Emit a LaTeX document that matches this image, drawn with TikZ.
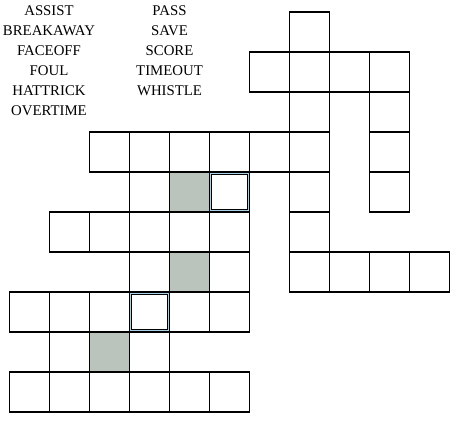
\documentclass[tikz,border=0pt]{standalone}
\usepackage{fontspec}
\setmainfont{Liberation Serif}
\definecolor{shade}{RGB}{187,196,188}
\definecolor{paleblue}{RGB}{170,210,232}
\begin{document}
\begin{tikzpicture}[x=1bp,y=-1bp,
  cellbox/.style={draw=black,line width=1.2bp,minimum size=40bp,inner sep=0pt,outer sep=0pt},
  shadebox/.style={cellbox,fill=shade},
  bluering/.style={draw=paleblue,line width=1bp,minimum size=37.6bp,inner sep=0pt},
  innerring/.style={draw=black,line width=1.2bp,minimum size=35.6bp,inner sep=0pt},
  word/.style={anchor=base,inner sep=0pt,font=\fontsize{14.8bp}{17bp}\selectfont}]
\useasboundingbox (0,0) rectangle (461,424);
% word list
\node[word] (w1) at (49,15.7) {ASSIST};
\node[word] (w2) at (49,35.7) {BREAKAWAY};
\node[word] (w3) at (49,55.7) {FACEOFF};
\node[word] (w4) at (49,75.7) {FOUL};
\node[word] (w5) at (49,95.7) {HATTRICK};
\node[word] (w6) at (49,115.7) {OVERTIME};
\node[word] (w7) at (169.5,15.7) {PASS};
\node[word] (w8) at (169.5,35.7) {SAVE};
\node[word] (w9) at (169.5,55.7) {SCORE};
\node[word] (w10) at (169.5,75.7) {TIMEOUT};
\node[word] (w11) at (169.5,95.7) {WHISTLE};
% plain cells (col/row)
\foreach \c/\r in {7/0,
  6/1,7/1,8/1,9/1,
  7/2,9/2,
  2/3,3/3,4/3,5/3,6/3,7/3,9/3,
  3/4,5/4,7/4,9/4,
  1/5,2/5,3/5,4/5,5/5,7/5,
  3/6,5/6,7/6,8/6,9/6,10/6,
  0/7,1/7,2/7,3/7,4/7,5/7,
  1/8,3/8,
  0/9,1/9,2/9,3/9,4/9,5/9}
  \node[cellbox] (cell-\c-\r) at ({29.3+40*\c},{32+40*\r}) {};
% shaded cells
\foreach \c/\r in {4/4,4/6,2/8}
  \node[shadebox] (cell-\c-\r) at ({29.3+40*\c},{32+40*\r}) {};
% double-framed cells
\foreach \c/\r in {5/4,3/7}{
  \node[bluering] (ring-\c-\r) at (cell-\c-\r.center) {};
  \node[innerring] (inner-\c-\r) at (cell-\c-\r.center) {};
}
\end{tikzpicture}
\end{document}
